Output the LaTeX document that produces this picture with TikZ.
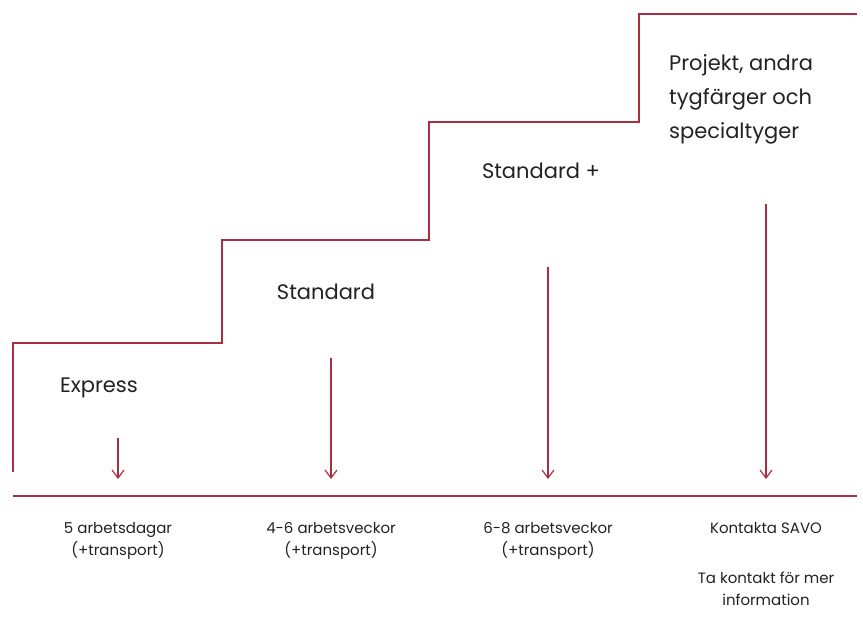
\documentclass[tikz,border=0pt]{standalone}
\usepackage{fontspec}
\setmainfont{Poppins}
\usepackage{tikz}
\usetikzlibrary{arrows.meta, positioning}
\definecolor{savored}{RGB}{170,46,66}
\definecolor{savotext}{RGB}{34,34,34}
\tikzstyle{stair} = [draw=savored, line width=1.5pt]
\tikzstyle{arrow} = [draw=savored, line width=1.2pt, -{Straight Barb[length=8pt, width=12pt]}]
\tikzstyle{level} = [text=savotext, font=\fontsize{21}{34}\selectfont, inner sep=0pt]
\tikzstyle{time} = [text=savotext, font=\fontsize{15}{22}\selectfont, align=center, inner sep=0pt]

\begin{document}
\begin{tikzpicture}[x=1pt, y=-1pt, node distance=38pt]
\useasboundingbox (0,0) rectangle (863,617);
\draw [stair] (13,472) -- (13,343) -- (222,343) -- (222,240) -- (429,240) -- (429,122) -- (639,122) -- (639,14) -- (857,14);
\draw [stair] (13,496) -- (857,496);

\node (express) [level] at (99,388) {Express};
\node (standard) [level] at (326,292) {Standard};
\node (standardplus) [level] at (541,171) {Standard +};
\node (projekt) [level, align=left, anchor=north west] at (669,54) {Projekt, andra\\tygfärger och\\specialtyger};

\coordinate (top1) at (118,438);
\coordinate (top2) at (331,358);
\coordinate (top3) at (548,267);
\coordinate (top4) at (766,204);
\coordinate (end1) at (118,479);
\coordinate (end2) at (331,479);
\coordinate (end3) at (548,479);
\coordinate (end4) at (766,479);

\draw [arrow] (top1) -- (end1);
\draw [arrow] (top2) -- (end2);
\draw [arrow] (top3) -- (end3);
\draw [arrow] (top4) -- (end4);

\node (time1) [time, anchor=north] at (118,522) {5 arbetsdagar\\(+transport)};
\node (time2) [time, anchor=north] at (331,522) {4-6 arbetsveckor\\(+transport)};
\node (time3) [time, anchor=north] at (548,522) {6-8 arbetsveckor\\(+transport)};
\node (time4) [time, anchor=north] at (766,522) {Kontakta SAVO};
\node (contact) [time, below=of time4] {Ta kontakt för mer\\information};
\end{tikzpicture}
\end{document}
